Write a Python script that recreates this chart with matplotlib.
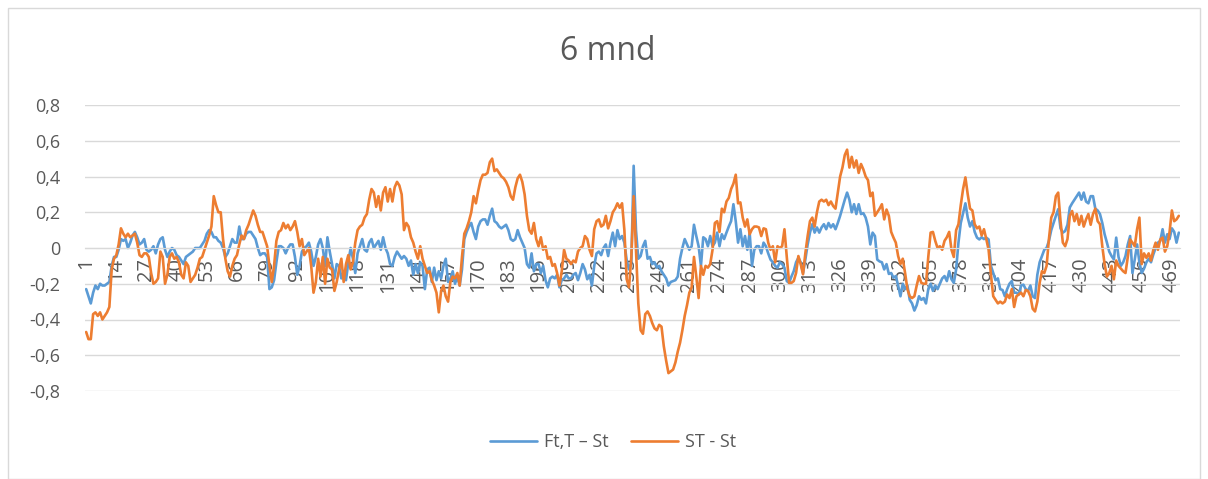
import matplotlib
matplotlib.use("Agg")
import matplotlib.pyplot as plt
from matplotlib.patches import Rectangle

title = "6 mnd"
series_names = ["Ft,T \u2013 St", "ST - St"]
colors = ["#5B9BD5", "#ED7D31"]

ft_t_st = [
    -0.23, -0.27, -0.31, -0.25, -0.21, -0.23, -0.20, -0.21, -0.21, -0.20,
    -0.19, -0.10, -0.05, -0.05, -0.01, 0.05, 0.04, 0.05, 0.00, 0.03,
    0.07, 0.09, 0.06, 0.02, 0.03, 0.05, -0.01, -0.02, -0.01, 0.01,
    -0.03, 0.02, 0.05, 0.06, -0.01, -0.05, -0.02, 0.00, -0.01, -0.04,
    -0.05, -0.07, -0.09, -0.05, -0.04, -0.03, -0.02, 0.00, 0.00, 0.00,
    0.02, 0.04, 0.08, 0.10, 0.09, 0.06, 0.06, 0.04, 0.03, 0.00,
    -0.05, -0.03, 0.01, 0.05, 0.03, 0.03, 0.12, 0.05, 0.05, 0.08,
    0.09, 0.09, 0.07, 0.05, 0.00, -0.04, -0.03, -0.03, -0.05, -0.23,
    -0.22, -0.18, -0.08, 0.01, 0.01, 0.00, -0.03, 0.00, 0.02, 0.02,
    -0.05, -0.15, -0.10, -0.02, 0.00, 0.01, 0.03, -0.02, -0.10, -0.05,
    0.02, 0.05, 0.00, -0.10, 0.06, -0.02, -0.09, -0.17, -0.09, -0.10,
    -0.17, -0.13, -0.18, -0.08, 0.00, -0.06, -0.14, -0.03, 0.01, 0.05,
    -0.01, -0.02, 0.03, 0.05, 0.00, 0.02, 0.04, -0.01, 0.06, 0.00,
    -0.03, -0.09, -0.10, -0.05, -0.02, -0.04, -0.06, -0.045, -0.06, -0.10,
    -0.07, -0.15, -0.09, -0.14, -0.08, -0.10, -0.23, -0.12, -0.11, -0.19,
    -0.11, -0.18, -0.13, -0.17, -0.10, -0.06, -0.19, -0.17, -0.13, -0.20,
    -0.16, -0.21, -0.12, 0.05, 0.09, 0.12, 0.14, 0.09, 0.05, 0.12,
    0.15, 0.16, 0.16, 0.13, 0.18, 0.22, 0.15, 0.14, 0.12, 0.11,
    0.12, 0.13, 0.10, 0.05, 0.04, 0.05, 0.10, 0.06, 0.03, 0.00,
    -0.09, -0.11, -0.03, -0.13, -0.09, -0.09, -0.14, -0.10, -0.18, -0.22,
    -0.17, -0.16, -0.17, -0.15, -0.22, -0.18, -0.17, -0.15, -0.17, -0.17,
    -0.15, -0.14, -0.18, -0.14, -0.09, -0.12, -0.175, -0.15, -0.21, -0.10,
    -0.03, -0.02, -0.04, 0.00, 0.02, -0.045, 0.03, 0.086, 0.01, 0.10,
    0.05, 0.067, 0.03, -0.07, -0.12, -0.08, 0.46, 0.10, -0.06, -0.045,
    0.01, 0.04, -0.06, -0.05, -0.09, -0.08, -0.11, -0.10, -0.13, -0.15,
    -0.17, -0.21, -0.19, -0.185, -0.18, -0.16, -0.06, 0.00, 0.05, 0.02,
    -0.01, 0.01, 0.13, 0.067, 0.01, -0.10, 0.06, 0.05, 0.01, 0.067,
    0.01, 0.03, 0.086, 0.01, 0.077, 0.05, 0.086, 0.12, 0.15, 0.245,
    0.15, 0.03, 0.105, 0.01, 0.067, -0.01, 0.086, -0.10, -0.01, 0.01,
    0.01, -0.03, 0.03, 0.01, -0.03, -0.065, -0.08, -0.10, -0.11, -0.08,
    -0.09, -0.11, -0.185, -0.195, -0.16, -0.13, -0.08, -0.055, -0.08, -0.14,
    -0.065, 0.02, 0.086, 0.133, 0.086, 0.115, 0.086, 0.115, 0.133, 0.105,
    0.14, 0.115, 0.133, 0.105, 0.14, 0.18, 0.225, 0.27, 0.31, 0.27,
    0.20, 0.245, 0.19, 0.245, 0.19, 0.195, 0.17, 0.12, 0.02, 0.086,
    0.067, -0.065, -0.075, -0.08, -0.12, -0.09, -0.145, -0.14, -0.166, -0.157,
    -0.21, -0.27, -0.20, -0.23, -0.21, -0.29, -0.31, -0.35, -0.32, -0.27,
    -0.29, -0.28, -0.31, -0.23, -0.20, -0.24, -0.21, -0.23, -0.20, -0.17,
    -0.157, -0.185, -0.13, -0.175, -0.195, -0.12, 0.03, 0.14, 0.195, 0.25,
    0.17, 0.12, 0.15, 0.09, 0.058, 0.048, 0.06, 0.05, 0.058, 0.048,
    -0.10, -0.14, -0.18, -0.17, -0.23, -0.235, -0.27, -0.23, -0.20, -0.185,
    -0.25, -0.25, -0.26, -0.21, -0.205, -0.23, -0.24, -0.21, -0.27, -0.28,
    -0.15, -0.08, -0.045, -0.01, 0.00, 0.04, 0.10, 0.14, 0.18, 0.217,
    0.11, 0.086, 0.095, 0.13, 0.227, 0.25, 0.27, 0.29, 0.31, 0.27,
    0.31, 0.26, 0.25, 0.29, 0.29, 0.22, 0.21, 0.19, 0.14, 0.077,
    0.03, -0.02, -0.045, -0.064, 0.058, -0.05, -0.10, -0.08, -0.045, 0.02,
    0.067, -0.14, -0.064, 0.02, -0.08, -0.14, -0.115, -0.08, -0.06, -0.08,
    -0.036, 0.00, 0.03, 0.04, 0.105, 0.03, 0.077, 0.05, 0.11, 0.09, 0.03, 0.086,
]

st_st = [
    -0.47, -0.51, -0.51, -0.37, -0.36, -0.38, -0.36, -0.40, -0.38, -0.36,
    -0.33, -0.12, -0.06, -0.04, 0.02, 0.11, 0.08, 0.06, 0.08, 0.06,
    0.07, 0.08, 0.03, -0.04, -0.05, -0.03, -0.03, -0.05, -0.14, -0.20,
    -0.19, -0.17, -0.02, -0.05, -0.20, -0.15, -0.05, -0.03, -0.06, -0.05,
    -0.08, -0.15, -0.17, -0.08, -0.10, -0.19, -0.17, -0.15, -0.11, -0.06,
    -0.05, -0.01, 0.03, 0.07, 0.12, 0.29, 0.24, 0.20, 0.20, 0.05,
    -0.06, -0.13, -0.16, -0.10, -0.06, -0.04, 0.02, 0.07, 0.05, 0.10,
    0.13, 0.17, 0.21, 0.18, 0.13, 0.09, 0.09, 0.05, 0.01, -0.10,
    -0.19, -0.10, 0.04, 0.09, 0.10, 0.14, 0.11, 0.13, 0.10, 0.12,
    0.15, 0.09, 0.01, 0.05, -0.04, -0.02, 0.00, -0.10, -0.25, -0.19,
    -0.06, -0.16, -0.05, -0.20, -0.06, -0.11, -0.12, -0.24, -0.19, -0.12,
    -0.06, -0.19, -0.09, -0.04, -0.12, -0.08, 0.03, 0.10, 0.12, 0.13,
    0.17, 0.19, 0.27, 0.33, 0.31, 0.23, 0.29, 0.21, 0.31, 0.34,
    0.26, 0.33, 0.26, 0.34, 0.37, 0.35, 0.30, 0.10, 0.14, 0.12,
    0.06, 0.03, -0.02, -0.06, 0.01, -0.06, -0.10, -0.14, -0.13, -0.18,
    -0.21, -0.25, -0.36, -0.24, -0.21, -0.27, -0.30, -0.19, -0.16, -0.17,
    -0.14, -0.21, -0.05, 0.08, 0.11, 0.15, 0.20, 0.29, 0.25, 0.32,
    0.38, 0.41, 0.41, 0.42, 0.48, 0.50, 0.43, 0.44, 0.42, 0.40,
    0.39, 0.37, 0.34, 0.29, 0.27, 0.34, 0.39, 0.41, 0.37, 0.30,
    0.18, 0.10, 0.08, 0.14, 0.05, 0.01, 0.06, -0.01, 0.01, -0.06,
    -0.05, -0.10, -0.09, -0.14, -0.21, -0.13, -0.01, -0.06, -0.07, -0.09,
    -0.07, -0.08, -0.02, 0.00, 0.01, 0.067, 0.05, -0.01, -0.045, 0.105,
    0.15, 0.16, 0.12, 0.13, 0.18, 0.11, 0.15, 0.20, 0.22, 0.25,
    0.225, 0.25, 0.10, -0.175, -0.22, -0.05, 0.29, -0.01, -0.31, -0.46,
    -0.48, -0.37, -0.355, -0.38, -0.42, -0.45, -0.46, -0.43, -0.44, -0.55,
    -0.63, -0.70, -0.69, -0.68, -0.64, -0.58, -0.53, -0.46, -0.38, -0.32,
    -0.25, -0.22, -0.05, -0.16, -0.28, -0.10, -0.15, -0.10, -0.11, -0.09,
    -0.01, 0.14, 0.15, 0.09, 0.22, 0.20, 0.26, 0.28, 0.33, 0.36,
    0.41, 0.25, 0.255, 0.17, 0.12, 0.16, 0.077, 0.105, 0.12, 0.12,
    0.115, 0.067, 0.11, 0.105, 0.03, -0.01, 0.01, -0.08, 0.01, 0.00,
    0.01, 0.105, -0.05, -0.195, -0.195, -0.185, -0.14, -0.045, -0.09, -0.147,
    -0.03, 0.067, 0.15, 0.17, 0.12, 0.20, 0.26, 0.27, 0.26, 0.27,
    0.24, 0.26, 0.235, 0.22, 0.31, 0.40, 0.45, 0.52, 0.55, 0.45,
    0.51, 0.45, 0.49, 0.42, 0.47, 0.44, 0.40, 0.38, 0.29, 0.31,
    0.18, 0.20, 0.22, 0.245, 0.16, 0.215, 0.18, 0.09, 0.058, 0.03,
    -0.045, -0.09, -0.06, -0.14, -0.23, -0.27, -0.28, -0.27, -0.21, -0.157,
    -0.195, -0.20, -0.20, -0.05, 0.086, 0.09, 0.04, 0.00, 0.01, -0.01,
    0.04, 0.06, 0.09, -0.01, -0.05, 0.10, 0.133, 0.24, 0.33, 0.395,
    0.30, 0.22, 0.21, 0.133, 0.11, 0.12, 0.07, 0.105, 0.05, -0.01,
    -0.15, -0.27, -0.29, -0.31, -0.30, -0.31, -0.30, -0.26, -0.28, -0.23,
    -0.33, -0.27, -0.26, -0.25, -0.27, -0.235, -0.24, -0.27, -0.34, -0.355,
    -0.30, -0.195, -0.13, -0.14, -0.10, 0.05, 0.17, 0.20, 0.29, 0.31,
    0.15, 0.03, 0.01, 0.05, 0.18, 0.207, 0.15, 0.19, 0.13, 0.18,
    0.12, 0.16, 0.19, 0.13, 0.19, 0.22, 0.15, 0.133, 0.01, -0.09,
    -0.16, -0.14, -0.10, -0.175, -0.07, -0.10, -0.115, -0.13, -0.14, -0.05,
    0.048, 0.03, 0.01, 0.105, 0.17, -0.09, -0.03, -0.055, -0.03, -0.07,
    -0.01, 0.03, -0.01, 0.048, 0.058, -0.02, 0.01, 0.09, 0.21, 0.15, 0.16, 0.18,
]

x_tick_values = list(range(1, 470, 13))
x_tick_labels = [str(v) for v in x_tick_values]
y_tick_values = [-0.8, -0.6, -0.4, -0.2, 0.0, 0.2, 0.4, 0.6, 0.8]
y_tick_labels = ["-0,8", "-0,6", "-0,4", "-0,2", "0", "0,2", "0,4", "0,6", "0,8"]

plt.rcParams["font.family"] = ["Open Sans", "DejaVu Sans"]
text_color = "#595959"
grid_color = "#D9D9D9"

W, H = 1208, 479
fig = plt.figure(figsize=(W / 100, H / 100), dpi=100)
fig.patches.append(Rectangle((8 / W, 0.0), (W - 16) / W, 1 - 8 / H,
                             transform=fig.transFigure, fill=False,
                             edgecolor=grid_color, linewidth=1.0))

left, right, top, bottom = 85, 1180, 105, 391
ax = fig.add_axes([left / W, 1 - bottom / H, (right - left) / W, (bottom - top) / H])

for s in ["top", "right", "left"]:
    ax.spines[s].set_visible(False)
ax.spines["bottom"].set_position(("data", 0))
ax.spines["bottom"].set_color(grid_color)

n = max(len(ft_t_st), len(st_st))
for vals, name, col in zip([ft_t_st, st_st], series_names, colors):
    ax.plot(range(1, len(vals) + 1), vals, color=col, lw=1.9, label=name,
            solid_joinstyle="round", solid_capstyle="round")

ax.set_xlim(0.5, n + 0.5)
ax.set_ylim(-0.8, 0.8)
ax.set_yticks(y_tick_values)
ax.set_yticklabels(y_tick_labels)
ax.set_xticks(x_tick_values)
ax.set_xticklabels(x_tick_labels)
ax.yaxis.grid(True, color=grid_color, lw=1.0)
ax.set_axisbelow(True)
ax.tick_params(axis="both", length=0, colors=text_color, labelsize=13)
ax.tick_params(axis="x", pad=7, labelrotation=90, labelsize=14.5)
ax.tick_params(axis="y", pad=18)

fig.text(608 / W, 1 - 52 / H, title, ha="center", va="center",
         fontsize=23, color=text_color)

handles, labels = ax.get_legend_handles_labels()
fig.legend(handles, labels, loc="center", bbox_to_anchor=(613 / W, 1 - 442 / H),
           ncol=2, frameon=False, fontsize=13, handlelength=2.6,
           columnspacing=1.2, handletextpad=0.4, labelcolor=text_color)

fig.savefig("out.png", dpi=100)
